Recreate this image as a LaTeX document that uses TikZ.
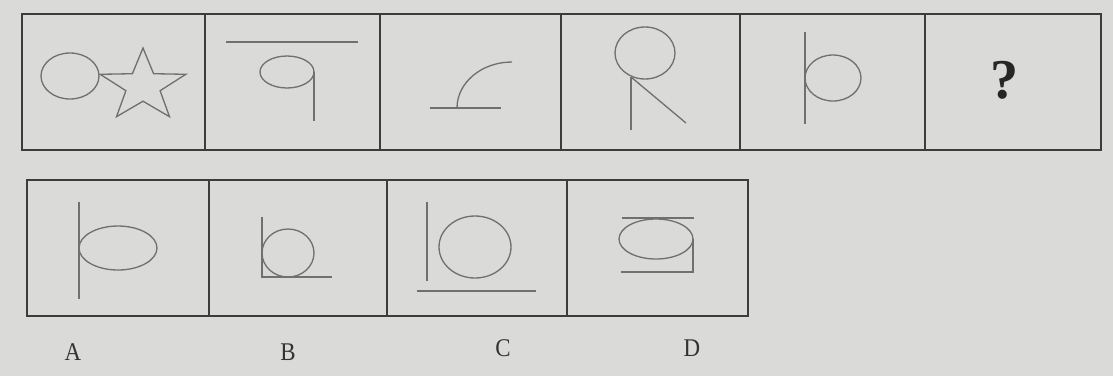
\documentclass[tikz,border=0pt]{standalone}
\usepackage{fontspec}
\setmainfont{Liberation Serif}
\definecolor{Paper}{HTML}{DADAD8}
\definecolor{Frame}{HTML}{3C3C3C}
\definecolor{Pencil}{HTML}{707070}

\begin{document}
\begin{tikzpicture}[
    x=0.02cm, y=-0.02cm,
    frame/.style={draw=Frame, line width=1.1pt},
    figline/.style={draw=Pencil, line width=0.75pt},
    optlabel/.style={font=\fontsize{14.5}{14.5}\selectfont, text=black!80, inner sep=0pt, xscale=0.9}
  ]
  \fill[Paper] (0,0) rectangle (1113,376);

  % question row
  \draw[frame] (22,14) rectangle (1101,150);
  \foreach \x in {205,380,561,740,925}
    \draw[frame] (\x,14) -- (\x,150);

  % answer row
  \draw[frame] (27,180) rectangle (748,316);
  \foreach \x in {209,387,567}
    \draw[frame] (\x,180) -- (\x,316);

  % 1: circle + star
  \draw[figline] (70,76) ellipse [x radius=29, y radius=23];
  \draw[figline] (143,48) -- (132.4,73.7) -- (100.2,74.3) -- (125.9,90.7)
    -- (116.5,116.7) -- (143,101.2) -- (169.5,116.7) -- (160.1,90.7)
    -- (185.8,74.3) -- (153.6,73.7) -- cycle;

  % 2
  \draw[figline] (226,42) -- (358,42);
  \draw[figline] (287,72) ellipse [x radius=27, y radius=16];
  \draw[figline] (314,72) -- (314,121);

  % 3
  \draw[figline] (430,108) -- (501,108);
  \draw[figline] (457,108) .. controls (457,82.6) and (481.6,62) .. (512,62);

  % 4
  \draw[figline] (645,53) ellipse [x radius=30, y radius=26];
  \draw[figline] (631,77) -- (631,130);
  \draw[figline] (631,77) -- (686,123);

  % 5
  \draw[figline] (805,32) -- (805,124);
  \draw[figline] (833,78) ellipse [x radius=28, y radius=23];

  % 6
  \node[font=\fontsize{32}{32}\selectfont\bfseries, text=black!85] (ask) at (1005,80) {?};

  % options
  \draw[figline] (79,202) -- (79,299);
  \draw[figline] (118,248) ellipse [x radius=39, y radius=22];

  \draw[figline] (262,217) -- (262,277) -- (332,277);
  \draw[figline] (288,253) ellipse [x radius=26, y radius=24];

  \draw[figline] (427,202) -- (427,281);
  \draw[figline] (417,291) -- (536,291);
  \draw[figline] (475,247) ellipse [x radius=36, y radius=31];

  \draw[figline] (622,218) -- (694,218);
  \draw[figline] (656,239) ellipse [x radius=37, y radius=20];
  \draw[figline] (693,239) -- (693,272) -- (621,272);

  \node[optlabel] (labA) at (73,352) {A};
  \node[optlabel] (labB) at (288,352) {B};
  \node[optlabel] (labC) at (503,348) {C};
  \node[optlabel] (labD) at (692,348) {D};
\end{tikzpicture}
\end{document}
